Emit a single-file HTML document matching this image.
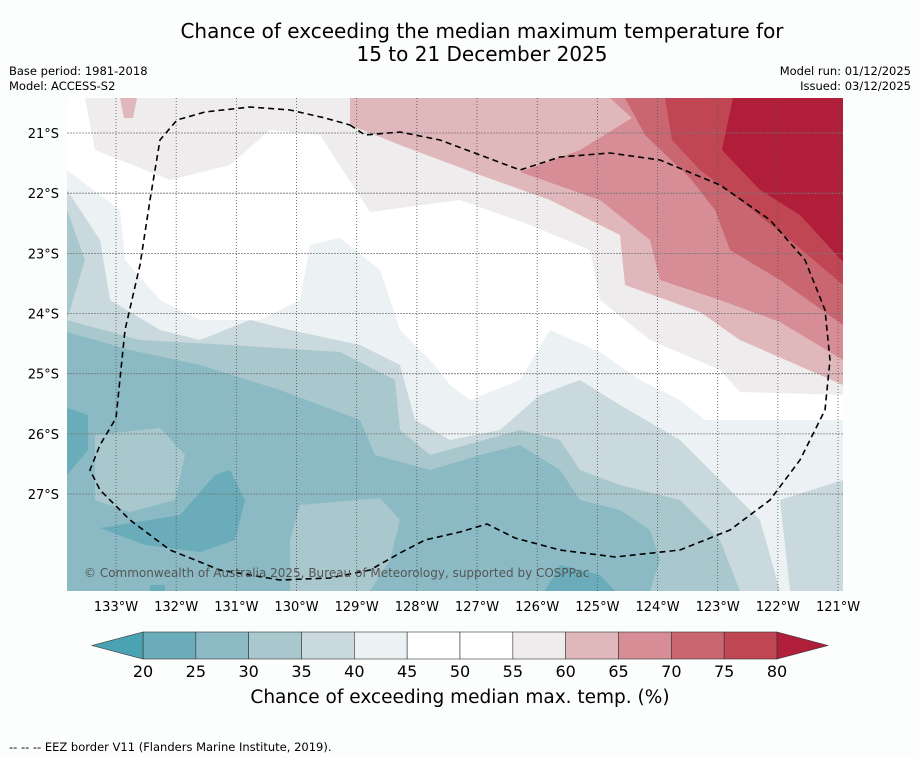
<!DOCTYPE html>
<html><head><meta charset="utf-8"><style>
body{margin:0;background:#fcfdfd;font-family:"Liberation Sans","DejaVu Sans",sans-serif;}
svg{display:block}
</style></head><body>
<svg width="919" height="758" viewBox="0 0 919 758" font-family="'DejaVu Sans','Liberation Sans',sans-serif">
<rect width="919" height="758" fill="#fcfdfd"/>
<text x="482" y="38" text-anchor="middle" font-size="20" fill="#000">Chance of exceeding the median maximum temperature for</text>
<text x="482" y="61" text-anchor="middle" font-size="20" fill="#000">15 to 21 December 2025</text>
<text x="9" y="75" font-size="11.5">Base period: 1981-2018</text>
<text x="9" y="90" font-size="11.5">Model: ACCESS-S2</text>
<text x="911" y="75" font-size="11.5" text-anchor="end">Model run: 01/12/2025</text>
<text x="911" y="90" font-size="11.5" text-anchor="end">Issued: 03/12/2025</text>
<defs><clipPath id="mc"><rect x="67" y="98" width="776" height="493"/></clipPath></defs>
<g clip-path="url(#mc)">
<rect x="67" y="98" width="776" height="493" fill="#ffffff"/>
<g>
<polygon fill="#efeced" points="85,98 95,150 170,180 230,165 270,130 320,135 370,212 460,200 530,225 590,250 600,300 650,340 720,370 740,392 843,395 843,98"/>
<polygon fill="#e0b7bb" points="350,98 350,125 400,145 480,175 550,200 620,235 625,285 700,312 740,340 843,385 843,98"/>
<polygon fill="#e0b7bb" points="120,98 137,98 133,118 124,118"/>
<polygon fill="#d68d95" points="610,98 632,118 580,150 520,172 600,200 650,240 660,280 720,300 780,322 843,360 843,98"/>
<polygon fill="#c96670" points="625,98 645,135 690,178 715,210 730,250 780,280 843,325 843,98"/>
<polygon fill="#c04654" points="665,98 672,140 700,170 740,200 790,240 843,285 843,98"/>
<polygon fill="#b01e3a" points="733,98 722,150 760,190 800,215 843,262 843,98"/>
</g>
<g>
<polygon fill="#ecf1f3" points="67,170 120,210 125,260 160,300 200,320 260,320 300,300 310,245 340,238 380,270 400,330 430,360 450,385 470,400 520,380 550,330 600,352 640,380 680,400 705,420 843,420 843,591 67,591"/>
<polygon fill="#cad9de" points="67,190 100,240 110,300 160,330 200,340 250,320 290,330 360,345 400,365 415,420 450,440 500,430 540,395 580,380 620,405 680,440 720,480 760,520 780,591 67,591"/>
<polygon fill="#cad9de" points="780,500 843,480 843,591 790,591"/>
<polygon fill="#a9c8cd" points="67,210 85,260 67,320 140,340 230,345 340,352 395,380 400,430 430,455 520,430 560,440 580,470 620,485 680,500 720,540 740,591 67,591"/>
<polygon fill="#8bbac5" points="67,332 130,350 200,365 280,390 360,420 375,455 430,470 480,455 520,445 560,470 580,500 620,510 650,530 660,560 650,591 67,591"/>
<polygon fill="#a9c8cd" points="300,505 380,498 400,520 390,560 370,591 290,591 290,540"/>
<polygon fill="#a9c8cd" points="95,435 160,428 185,455 175,500 130,512 95,500"/>
<polygon fill="#6aacba" points="67,408 88,415 88,450 67,475"/>
<polygon fill="#6aacba" points="100,528 180,515 215,475 230,470 245,500 235,540 200,552 145,545"/>
<polygon fill="#6aacba" points="560,565 600,575 615,591 545,591"/>
<polygon fill="#6aacba" points="150,585 165,585 165,591 150,591"/>
</g>
<g id="grid" stroke="#555" stroke-width="0.8" stroke-dasharray="1,2" fill="none"></g>
<path fill="none" stroke="#000" stroke-width="1.6" stroke-dasharray="6,4" d="M350,125 L365,135 L400,132 L440,140 L480,155 L520,170 L560,157 L610,153 L660,160 L720,185 L770,220 L805,260 L825,310 L830,360 L825,410 L800,460 L770,500 L730,530 L680,550 L615,557 L560,550 L515,538 L487,524 L460,532 L425,540 L400,553 L370,570 L330,578 L280,580 L220,570 L170,550 L130,520 L100,490 L90,470 L100,445 L116,418 L125,330 L140,265 L150,200 L160,140 L177,120 L205,112 L250,107 L290,110 L325,118 L350,125"/>
<text x="84" y="577" font-size="12" fill="#555">© Commonwealth of Australia 2025, Bureau of Meteorology, supported by COSPPac</text>
</g>
<g id="xticks" font-size="13"></g>
<g id="yticks" font-size="13"></g>
<g id="cbar"></g>
<text x="460" y="703" text-anchor="middle" font-size="18.5">Chance of exceeding median max. temp. (%)</text>
<text x="9" y="751" font-size="11.5">--  --  -- EEZ border V11 (Flanders Marine Institute, 2019).</text>
</svg>
<script>
const lonTicks=[133,132,131,130,129,128,127,126,125,124,123,122,121];
const latTicks=[21,22,23,24,25,26,27];
const levels=[20,25,30,35,40,45,50,55,60,65,70,75,80];
const bandColors=["#6aacba","#8bbac5","#a9c8cd","#cad9de","#ecf1f3","#ffffff","#ffffff","#efeced","#e0b7bb","#d68d95","#c96670","#c04654"];
const lowColor="#4aa3b2", highColor="#b01e3a";
const NS="http://www.w3.org/2000/svg";
function xLon(l){return 116+(133-l)*60.17;}
function yLat(l){return 133+(l-21)*60.17;}
function xLev(v){return 143+(v-20)*(777-143)/60;}
function mk(t,a,p){const e=document.createElementNS(NS,t);for(const k in a)e.setAttribute(k,a[k]);p.appendChild(e);return e;}
const grid=document.getElementById('grid'),xt=document.getElementById('xticks'),yt=document.getElementById('yticks'),cb=document.getElementById('cbar');
lonTicks.forEach(l=>{const x=xLon(l);
 const g=mk('line',{x1:x,x2:x,y1:98,y2:591},grid);
 
 
 const t=mk('text',{x:x,y:611,'text-anchor':'middle'},xt);t.textContent=l+'°W';
 
 
});
latTicks.forEach(l=>{const y=yLat(l);
 const g=mk('line',{x1:67,x2:843,y1:y,y2:y,stroke:'#777','stroke-dasharray':'2,1'},grid);
 
 
 const t=mk('text',{x:59,y:y+5,'text-anchor':'end'},yt);t.textContent=l+'°S';
 
 
});
bandColors.forEach((c,i)=>{const x0=xLev(levels[i]),x1=xLev(levels[i+1]);
 const r=mk('rect',{x:x0,y:632,width:x1-x0,height:27,fill:c,stroke:'#333','stroke-width':0.6},cb);
 
 
});
const lo=mk('polygon',{points:`${xLev(20)},632 92,645.5 ${xLev(20)},659`,fill:lowColor,stroke:'#333','stroke-width':0.6},cb);


const hi=mk('polygon',{points:`${xLev(80)},632 828,645.5 ${xLev(80)},659`,fill:highColor,stroke:'#333','stroke-width':0.6},cb);


levels.forEach(v=>{const t=mk('text',{x:xLev(v),y:677,'text-anchor':'middle','font-size':16},cb);t.textContent=v;
 
 
});
</script>
</body></html>
